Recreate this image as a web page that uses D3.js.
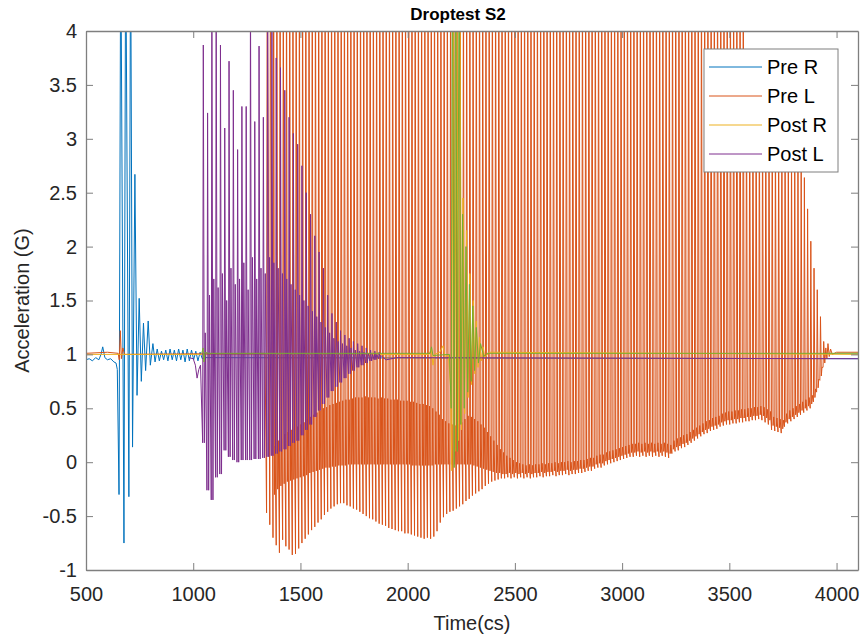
<!DOCTYPE html>
<html>
<head>
<meta charset="utf-8">
<script src="https://cdn.jsdelivr.net/npm/d3@7"></script>
<style>
  body { margin: 0; background: #fff; }
  text { font-family: "Liberation Sans", Arial, sans-serif; }
</style>
</head>
<body>
<script>
// axis ticks
var xTicks = [500, 1000, 1500, 2000, 2500, 3000, 3500, 4000];
var yTicks = [-1, -0.5, 0, 0.5, 1, 1.5, 2, 2.5, 3, 3.5, 4];

// legend labels (5th trace is not in the legend)
var legendNames = ['Pre R', 'Pre L', 'Post R', 'Post L'];
var colors = ['#0072BD', '#D95319', '#EDB120', '#7E2F8E', '#77AC30'];

// values above 4 are off the chart, 5 just means "clipped"
// Pre R : irregular samples
var preRTime = [500,515,530,545,560,570,578,588,600,615,630,640,646,654,662,677,685,700,708,717,
  728,738,748,758,768,778,790,800,812,822,832,842,852,862,872,882,892,902,912,922,
  932,942,952,962,972,982,992,1002,1012,1022,1032,1042,1055,4100];
var preRValue = [0.95,0.96,0.94,0.97,0.95,1.0,1.07,0.97,0.95,0.96,0.93,0.92,0.86,-0.3,5,-0.75,5,-0.32,5,0.14,
  2.67,0.62,1.52,0.75,1.29,0.85,1.31,0.9,1.1,0.93,1.05,0.94,1.03,0.95,1.04,0.94,1.05,0.95,1.04,0.94,
  1.05,0.95,1.04,0.93,1.05,0.94,1.04,0.95,1.03,0.94,1.02,0.96,0.97,0.96];

// Pre L : quiet head, one cycle every 15 cs from 1342, quiet tail
var preLHeadTime = [500, 600, 650, 655, 660, 665, 672, 680, 1335];
var preLHeadValue = [1.01, 1.02, 1.01, 0.95, 1.22, 0.96, 1.06, 1.0, 1.01];
var preLStart = 1342, preLPeriod = 15;
var preLTroughs = [
  -0.47,-0.58,-0.70,-0.77,-0.84,-0.72,-0.78,-0.81,-0.86,-0.85,
  -0.80,-0.75,-0.71,-0.67,-0.63,-0.60,-0.56,-0.53,-0.49,-0.46,
  -0.43,-0.41,-0.39,-0.38,-0.38,-0.40,-0.41,-0.43,-0.44,-0.46,
  -0.48,-0.50,-0.52,-0.53,-0.55,-0.57,-0.58,-0.59,-0.61,-0.62,
  -0.63,-0.64,-0.64,-0.66,-0.66,-0.67,-0.68,-0.69,-0.70,-0.71,
  -0.70,-0.71,-0.69,-0.64,-0.56,-0.51,-0.48,-0.46,-0.45,-0.43,
  -0.41,-0.39,-0.36,-0.34,-0.31,-0.29,-0.27,-0.25,-0.22,-0.20,
  -0.18,-0.17,-0.16,-0.15,-0.15,-0.14,-0.15,-0.14,-0.15,-0.14,
  -0.15,-0.14,-0.15,-0.14,-0.14,-0.13,-0.14,-0.13,-0.13,-0.12,
  -0.13,-0.12,-0.12,-0.11,-0.12,-0.11,-0.11,-0.10,-0.10,-0.09,
  -0.08,-0.08,-0.06,-0.05,-0.05,-0.03,-0.02,-0.01,0.00,0.01,
  0.02,0.03,0.04,0.05,0.05,0.06,0.05,0.06,0.05,0.06,
  0.05,0.06,0.05,0.06,0.05,0.04,0.08,0.10,0.11,0.13,
  0.14,0.16,0.18,0.20,0.22,0.24,0.26,0.27,0.29,0.30,
  0.31,0.33,0.34,0.35,0.35,0.36,0.36,0.37,0.37,0.38,
  0.38,0.39,0.39,0.40,0.39,0.37,0.35,0.30,0.29,0.28,
  0.27,0.33,0.36,0.38,0.40,0.42,0.44,0.46,0.48,0.50,
  0.56,0.65,0.76,0.88];
var preLPeaks = [
  5,5,5,5,5,5,5,5,5,5, 5,5,5,5,5,5,5,5,5,5,
  5,5,5,5,5,5,5,5,5,5, 5,5,5,5,5,5,5,5,5,5,
  5,5,5,5,5,5,5,5,5,5, 5,5,5,5,5,5,5,5,5,5,
  5,5,5,5,5,5,5,5,5,5, 5,5,5,5,5,5,5,5,5,5,
  5,5,5,5,5,5,5,5,5,5, 5,5,5,5,5,5,5,5,5,5,
  5,5,5,5,5,5,5,5,5,5, 5,5,5,5,5,5,5,5,5,5,
  5,5,5,5,5,5,5,5,5,5, 5,5,5,5,5,5,5,5,5,5,
  5,5,5,5,5,5,5,5,5,
  3.7,3.65,3.6,3.55,3.5,3.45,3.4,3.35,3.3,3.25,3.2,3.15,3.1,3.05,3.0,2.95,2.9,2.8,
  2.64,2.35,2.05,1.8,1.6,1.35,1.12];
// rebound inside each cycle, for cycles 2..172
var preLReboundFrom = 2;
var preLReboundLow = [
  -0.3,-0.25,-0.22,-0.2,-0.18,-0.17,-0.16,-0.15,-0.14,-0.13,
  -0.12,-0.1,-0.09,-0.08,-0.07,-0.06,-0.05,-0.05,-0.04,-0.04,
  -0.03,-0.03,-0.03,-0.02,-0.02,-0.02,-0.02,-0.02,-0.02,-0.02,
  -0.02,-0.02,-0.02,-0.02,-0.02,-0.02,-0.02,-0.02,-0.02,-0.02,
  -0.02,-0.02,-0.02,-0.03,-0.03,-0.03,-0.03,-0.03,-0.03,-0.03,
  -0.02,-0.02,-0.02,-0.02,-0.02,-0.02,-0.02,-0.02,-0.02,-0.02,
  -0.02,-0.02,-0.03,-0.04,-0.05,-0.06,-0.07,-0.08,-0.09,-0.1,
  -0.1,
  -0.11,-0.11,-0.10,-0.11,-0.10,-0.11,-0.10,
  -0.11,-0.10,-0.11,-0.10,-0.10,-0.09,-0.10,-0.09,-0.09,-0.08,
  -0.09,-0.08,-0.08,-0.07,-0.08,-0.07,-0.07,-0.06,-0.06,-0.05,
  -0.04,-0.04,-0.02,-0.01,-0.01,0.01,0.02,0.03,0.04,0.05,
  0.06,0.07,0.08,0.09,0.09,0.10,0.09,0.10,0.09,0.10,
  0.09,0.10,0.09,0.10,0.09,0.08,0.12,0.14,0.15,0.17,
  0.18,0.20,0.22,0.24,0.26,0.28,0.30,0.31,0.33,0.34,
  0.35,0.37,0.38,0.39,0.39,0.40,0.40,0.41,0.41,0.42,
  0.42,0.43,0.43,0.44,0.43,0.41,0.39,0.34,0.33,0.32,
  0.31,0.37,0.40,0.42,0.44,0.46,0.48,0.50,0.52,0.54,
  0.60,0.69,0.80];
var preLReboundHigh = [
  0.15,0.2,0.22,0.26,0.28,0.3,0.32,0.33,0.35,0.37,
  0.4,0.42,0.44,0.46,0.48,0.5,0.51,0.53,0.54,0.55,
  0.56,0.57,0.58,0.58,0.59,0.6,0.6,0.6,0.61,0.6,
  0.6,0.6,0.59,0.6,0.59,0.59,0.58,0.58,0.58,0.57,
  0.57,0.57,0.56,0.56,0.55,0.54,0.54,0.53,0.52,0.5,
  0.47,0.44,0.4,0.38,0.36,0.35,0.34,0.35,0.37,0.4,
  0.43,0.42,0.4,0.38,0.35,0.32,0.28,0.24,0.2,0.16,
  0.12,
  0.09,0.06,0.04,0.02,0.0,-0.01,-0.02,
  -0.03,-0.02,-0.03,-0.02,-0.02,-0.01,-0.02,-0.01,-0.01,0.0,
  -0.01,0.0,0.0,0.01,0.0,0.01,0.01,0.02,0.02,0.03,
  0.04,0.04,0.06,0.07,0.07,0.09,0.10,0.11,0.12,0.13,
  0.14,0.15,0.16,0.17,0.17,0.18,0.17,0.18,0.17,0.18,
  0.17,0.18,0.17,0.18,0.17,0.16,0.20,0.22,0.23,0.25,
  0.26,0.28,0.30,0.32,0.34,0.36,0.38,0.39,0.41,0.42,
  0.43,0.45,0.46,0.47,0.47,0.48,0.48,0.49,0.49,0.50,
  0.50,0.51,0.51,0.52,0.51,0.49,0.47,0.42,0.41,0.40,
  0.39,0.45,0.48,0.50,0.52,0.54,0.56,0.58,0.60,0.62,
  0.68,0.77,0.88];
var preLTailTime = [3945, 3950, 3955, 3960, 3966, 3972, 3980, 4000, 4100];
var preLTailValue = [0.92, 1.06, 0.96, 1.1, 0.98, 1.05, 1.0, 1.02, 1.02];

// Post R : irregular samples
var postRTime = [500,1040,2100,2110,2118,2126,2150,2165,2175,2190,2200,2206,2212,2220,2228,2236,2243,2251,2258,2266,
  2274,2282,2290,2298,2306,2313,2320,2328,2335,2343,2352,2360,2380,4100];
var postRValue = [1.0,1.0,1.0,1.05,0.9,1.0,1.02,1.08,0.97,1.0,0.7,-0.08,5,0.1,5,0.2,5,0.3,2.45,0.45,
  2.15,0.6,1.75,0.72,1.5,0.82,1.31,0.88,1.16,0.94,1.07,0.97,1.02,1.0];

// Post L : head, one cycle every 20 cs from 1044, tail
var postLHeadTime = [980, 1000, 1010, 1018, 1026, 1034];
var postLHeadValue = [0.97, 0.96, 0.9, 0.78, 0.86, 0.9];
var postLStart = 1044, postLPeriod = 20;
var postLPeaks = [3.87,3.24,4.4,4.4,3.87,3.1,3.72,3.45,2.9,3.3,
  3.3,4.4,3.16,3.86,3.2,4.3,4.2,3.75,3.66,3.45,
  3.2,3.05,2.95,2.75,2.5,2.3,2.1,1.95,1.8,1.55,
  1.38,1.3,1.22,1.18,1.15,1.12,1.1,1.08,1.06,1.04,
  1.03,1.02];
var postLTroughs = [0.18,-0.26,-0.35,-0.14,-0.11,0.11,0.05,0.02,0.0,0.02,
  0.02,0.02,0.03,0.03,0.04,0.05,0.06,0.08,0.1,0.12,
  0.15,0.18,0.2,0.25,0.3,0.35,0.42,0.48,0.54,0.6,
  0.66,0.7,0.74,0.78,0.82,0.85,0.88,0.9,0.92,0.94,
  0.95,0.96];
var postLMids = [1.2,1.55,1.7,1.62,1.75,1.5,1.8,1.65,1.7,1.85,
  1.6,1.9,1.7,1.8,1.75,1.9,1.85,1.8,1.75,1.7,
  1.65,1.6,1.55,1.5,1.45,1.4,1.35,1.3,1.25,1.2,
  1.15,1.12,1.1,1.08,1.06,1.04,1.03,1.02,1.01,1.0,
  1.0,0.99];
var postLTailTime = [1885, 1900, 1950, 4100];
var postLTailValue = [0.97, 0.95, 0.97, 0.96];

// 5th trace (green, unlabeled)
var extraTime = [1040,1046,1050,1056,1070,2105,2111,2118,2195,2203,2209,2217,2224,2232,2240,2248,2256,2264,2272,2280,
  2288,2296,2304,2312,2320,2330,2340,2355,2370,4100];
var extraValue = [1.01,1.06,0.93,1.02,1.01,1.01,1.07,0.99,1.0,0.5,5,-0.05,5,0.1,5,0.35,2.3,0.5,2.0,0.65,
  1.65,0.75,1.45,0.85,1.25,0.92,1.1,0.98,1.01,1.01];

// ---- build point lists ----
function zipPts(ts, vs) {
  return ts.map(function(t, i) { return [t, vs[i]]; });
}

var preRPts = zipPts(preRTime, preRValue);

var preLPts = zipPts(preLHeadTime, preLHeadValue);
preLTroughs.forEach(function(v, i) {
  var t = preLStart + i * preLPeriod;
  preLPts.push([t, v]);
  preLPts.push([t + 3, preLPeaks[i]]);
  var k = i - preLReboundFrom;
  if (k >= 0 && k < preLReboundLow.length) {
    preLPts.push([t + 7, preLReboundLow[k]]);
    preLPts.push([t + 10, preLReboundHigh[k]]);
  }
});
preLPts = preLPts.concat(zipPts(preLTailTime, preLTailValue));

var postRPts = zipPts(postRTime, postRValue);

var postLPts = zipPts(postLHeadTime, postLHeadValue);
postLTroughs.forEach(function(v, i) {
  var t = postLStart + i * postLPeriod;
  postLPts.push([t, v]);
  postLPts.push([t + 3, postLPeaks[i]]);
  postLPts.push([t + 8, v]);
  postLPts.push([t + 12, postLMids[i]]);
});
postLPts = postLPts.concat(zipPts(postLTailTime, postLTailValue));

var extraPts = zipPts(extraTime, extraValue);

var series = [preRPts, preLPts, postRPts, postLPts, extraPts];

// ---- svg ----
var width = 861, height = 638;
var plotLeft = 86, plotRight = 858, plotTop = 31, plotBottom = 570;

var svg = d3.select('body').append('svg')
  .attr('width', width)
  .attr('height', height);

var x = d3.scaleLinear().domain([500, 4100]).range([plotLeft, plotRight]);
var y = d3.scaleLinear().domain([-1, 4]).range([plotBottom, plotTop]);

svg.append('defs').append('clipPath').attr('id', 'plot')
  .append('rect')
  .attr('x', plotLeft).attr('y', plotTop)
  .attr('width', plotRight - plotLeft).attr('height', plotBottom - plotTop);

var line = d3.line()
  .x(function(d) { return x(d[0]); })
  .y(function(d) { return y(d[1]); });

svg.append('g')
  .attr('clip-path', 'url(#plot)')
  .selectAll('path')
  .data(series)
  .enter().append('path')
  .attr('d', line)
  .attr('fill', 'none')
  .attr('stroke', function(d, i) { return colors[i]; })
  .attr('stroke-width', 1)
  .attr('stroke-linejoin', 'round');

//axes, ticks point inward, box on
var fmt = function(d) { return String(d); };
var axisColor = '#7f7f7f', labelColor = '#262626';

svg.append('g')
  .attr('transform', 'translate(0,' + plotBottom + ')')
  .call(d3.axisBottom(x).tickValues(xTicks).tickSizeInner(-7).tickSizeOuter(0).tickPadding(17).tickFormat(fmt));
svg.append('g')
  .attr('transform', 'translate(' + plotLeft + ',0)')
  .call(d3.axisLeft(y).tickValues(yTicks).tickSizeInner(-7).tickSizeOuter(0).tickPadding(9).tickFormat(fmt));
svg.append('g')
  .attr('transform', 'translate(0,' + plotTop + ')')
  .call(d3.axisTop(x).tickValues(xTicks).tickSizeInner(-7).tickSizeOuter(0).tickFormat(''));
svg.append('g')
  .attr('transform', 'translate(' + plotRight + ',0)')
  .call(d3.axisRight(y).tickValues(yTicks).tickSizeInner(-7).tickSizeOuter(0).tickFormat(''));

svg.selectAll('.domain').attr('stroke', axisColor).attr('stroke-width', 1.3);
svg.selectAll('.tick line').attr('stroke', axisColor).attr('stroke-width', 1);
svg.selectAll('.tick text')
  .attr('fill', labelColor)
  .style('font-size', '20px');

// title and axis labels
svg.append('text')
  .attr('x', 458).attr('y', 20)
  .attr('text-anchor', 'middle')
  .style('font-size', '17px').style('font-weight', 'bold')
  .attr('fill', '#000')
  .text('Droptest S2');

svg.append('text')
  .attr('x', (plotLeft + plotRight) / 2).attr('y', 630)
  .attr('text-anchor', 'middle')
  .style('font-size', '20px')
  .attr('fill', labelColor)
  .text('Time(cs)');

svg.append('text')
  .attr('transform', 'translate(29,' + ((plotTop + plotBottom) / 2) + ') rotate(-90)')
  .attr('text-anchor', 'middle')
  .style('font-size', '20px')
  .attr('fill', labelColor)
  .text('Acceleration (G)');

// legend
var legend = svg.append('g').attr('transform', 'translate(704,49)');
legend.append('rect')
  .attr('width', 134).attr('height', 123)
  .attr('fill', '#fff')
  .attr('stroke', axisColor).attr('stroke-width', 1);

var rows = legend.selectAll('g.row')
  .data(legendNames)
  .enter().append('g')
  .attr('class', 'row')
  .attr('transform', function(d, i) { return 'translate(0,' + (18 + i * 29) + ')'; });
rows.append('line')
  .attr('x1', 5).attr('x2', 58)
  .attr('stroke', function(d, i) { return colors[i]; })
  .attr('stroke-width', 1);
rows.append('text')
  .attr('x', 63).attr('dy', '0.35em')
  .style('font-size', '20px')
  .attr('fill', '#000')
  .text(function(d) { return d; });
</script>
</body>
</html>
